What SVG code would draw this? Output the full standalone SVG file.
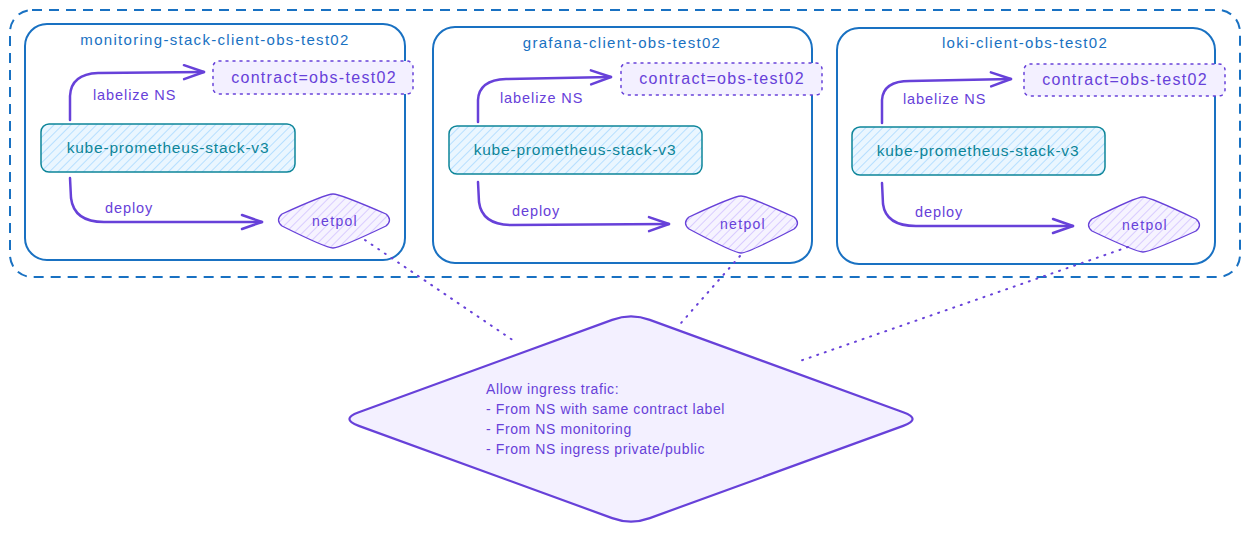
<svg xmlns="http://www.w3.org/2000/svg" width="1249" height="540" viewBox="0 0 1249 540">
<style>
text{font-family:"Liberation Sans","DejaVu Sans",sans-serif}
.ns{fill:#fff;stroke:#1971c2;stroke-width:2}
.title{fill:#1971c2;font-size:15px;letter-spacing:1.3px;text-anchor:middle}
.contract{fill:#f3f0ff;stroke:#6741d9;stroke-width:1.5;stroke-dasharray:2 5;stroke-linecap:round}
.ctext{fill:#6741d9;font-size:16px;letter-spacing:1.3px;text-anchor:middle}
.kube{fill:url(#hatchBlue);stroke:#0c8599;stroke-width:1.5}
.ktext{fill:#0c8599;font-size:15.5px;letter-spacing:0.8px;text-anchor:middle}
.netpol{fill:url(#hatchPurple);stroke:#6741d9;stroke-width:1.3}
.ntext{fill:#6741d9;font-size:14px;letter-spacing:1.3px;text-anchor:middle}
.arrow{fill:none;stroke:#6741d9;stroke-width:2.5;stroke-linecap:round;marker-end:url(#chev)}
.alabel{fill:#6741d9;font-size:14.5px;letter-spacing:0.9px}
.ptext{fill:#6741d9;font-size:14px;letter-spacing:0.6px}
.dot{fill:none;stroke:#6741d9;stroke-width:2;stroke-dasharray:1 7;stroke-linecap:round}
</style>
<defs>
<pattern id="hatchBlue" width="6" height="6" patternUnits="userSpaceOnUse" patternTransform="rotate(45)">
<rect width="6" height="6" fill="#eaf6ff"/>
<line x1="0" y1="0" x2="0" y2="6" stroke="#a5d8ff" stroke-width="1.5"/>
</pattern>
<pattern id="hatchPurple" width="6" height="6" patternUnits="userSpaceOnUse" patternTransform="rotate(45)">
<rect width="6" height="6" fill="#f6f3ff"/>
<line x1="0" y1="0" x2="0" y2="6" stroke="#d0bfff" stroke-width="1.5"/>
</pattern>
<marker id="chev" viewBox="-22 -10 24 20" refX="0" refY="0" markerWidth="24" markerHeight="20" markerUnits="userSpaceOnUse" orient="auto">
<path d="M-20,-7 L0,0 L-20,7" fill="none" stroke="#6741d9" stroke-width="2.5" stroke-linecap="round" stroke-linejoin="round"/>
</marker>
</defs>

<g id="outer">
<rect x="10" y="10" width="1230" height="267" rx="22" fill="none" stroke="#1971c2" stroke-width="2" stroke-dasharray="10 7"/>
</g>

<g id="ns-monitoring">
<rect class="ns" x="25" y="24" width="380" height="236" rx="22"/>
<text class="title" x="215" y="45">monitoring-stack-client-obs-test02</text>
</g>
<g id="ns-grafana">
<rect class="ns" x="433" y="27" width="379" height="236" rx="22"/>
<text class="title" x="622" y="48">grafana-client-obs-test02</text>
</g>
<g id="ns-loki">
<rect class="ns" x="837" y="28" width="378" height="236" rx="22"/>
<text class="title" x="1025" y="48">loki-client-obs-test02</text>
</g>

<g id="contract-1">
<rect class="contract" x="213" y="61" width="200" height="33" rx="6"/>
<text class="ctext" x="314" y="83">contract=obs-test02</text>
</g>
<g id="contract-2">
<rect class="contract" x="621" y="63" width="201" height="32" rx="6"/>
<text class="ctext" x="722" y="84">contract=obs-test02</text>
</g>
<g id="contract-3">
<rect class="contract" x="1024" y="64" width="201" height="32" rx="6"/>
<text class="ctext" x="1125" y="85">contract=obs-test02</text>
</g>

<g id="kube-1">
<rect class="kube" x="41" y="124" width="254" height="48" rx="8"/>
<text class="ktext" x="168" y="153">kube-prometheus-stack-v3</text>
</g>
<g id="kube-2">
<rect class="kube" x="449" y="126" width="253" height="48" rx="8"/>
<text class="ktext" x="575" y="155">kube-prometheus-stack-v3</text>
</g>
<g id="kube-3">
<rect class="kube" x="852" y="127" width="253" height="48" rx="8"/>
<text class="ktext" x="978" y="156">kube-prometheus-stack-v3</text>
</g>

<g id="netpol-1">
<path class="netpol" d="M333,194 Q340,194 386,214 Q393,220 386,226 Q340,248 333,248 Q326,248 282,226 Q275,220 282,214 Q326,194 333,194 Z"/>
<text class="ntext" x="335" y="226">netpol</text>
</g>
<g id="netpol-2">
<path class="netpol" d="M741,196 Q748,196 794,217 Q801,223 794,229 Q748,253 741,253 Q734,253 689,229 Q682,223 689,217 Q734,196 741,196 Z"/>
<text class="ntext" x="743" y="229">netpol</text>
</g>
<g id="netpol-3">
<path class="netpol" d="M1143,197 Q1150,197 1196,219 Q1203,225 1196,231 Q1150,252 1143,252 Q1136,252 1092,231 Q1085,225 1092,219 Q1136,197 1143,197 Z"/>
<text class="ntext" x="1145" y="230">netpol</text>
</g>

<g id="policy">
<path d="M612.2,319.9 Q631,313 649.8,319.9 L903.2,412.2 Q922,419 903.2,425.9 L649.8,518.1 Q631,525 612.2,518.1 L358.8,425.9 Q340,419 358.8,412.2 Z" fill="#f3f0ff" stroke="#6741d9" stroke-width="2.2" stroke-linejoin="round"/>
<text class="ptext" x="486" y="394">Allow ingress trafic:</text>
<text class="ptext" x="486" y="414">- From NS with same contract label</text>
<text class="ptext" x="486" y="434">- From NS monitoring</text>
<text class="ptext" x="486" y="454">- From NS ingress private/public</text>
</g>

<g id="connectors">
<path class="arrow" d="M70,120 L70,96 Q71,74 98,73 L204,72"/>
<path class="arrow" d="M70,178 L71,198 Q74,222 104,222 L262,222"/>
<path class="arrow" d="M478,122 L478,100 Q479,80 506,79 L611,77"/>
<path class="arrow" d="M478,182 L479,202 Q482,225 512,225 L669,224"/>
<path class="arrow" d="M882,123 L882,100 Q883,81 910,81 L1011,79"/>
<path class="arrow" d="M882,183 L883,204 Q886,226 916,226 L1073,226"/>
<text class="alabel" x="93" y="100">labelize NS</text>
<text class="alabel" x="105" y="213">deploy</text>
<text class="alabel" x="500" y="103">labelize NS</text>
<text class="alabel" x="512" y="216">deploy</text>
<text class="alabel" x="903" y="104">labelize NS</text>
<text class="alabel" x="915" y="217">deploy</text>
<path class="dot" d="M365,240 L517,343"/>
<path class="dot" d="M740,256 L681,323"/>
<path class="dot" d="M1128,247 L797,362"/>
</g>
</svg>
